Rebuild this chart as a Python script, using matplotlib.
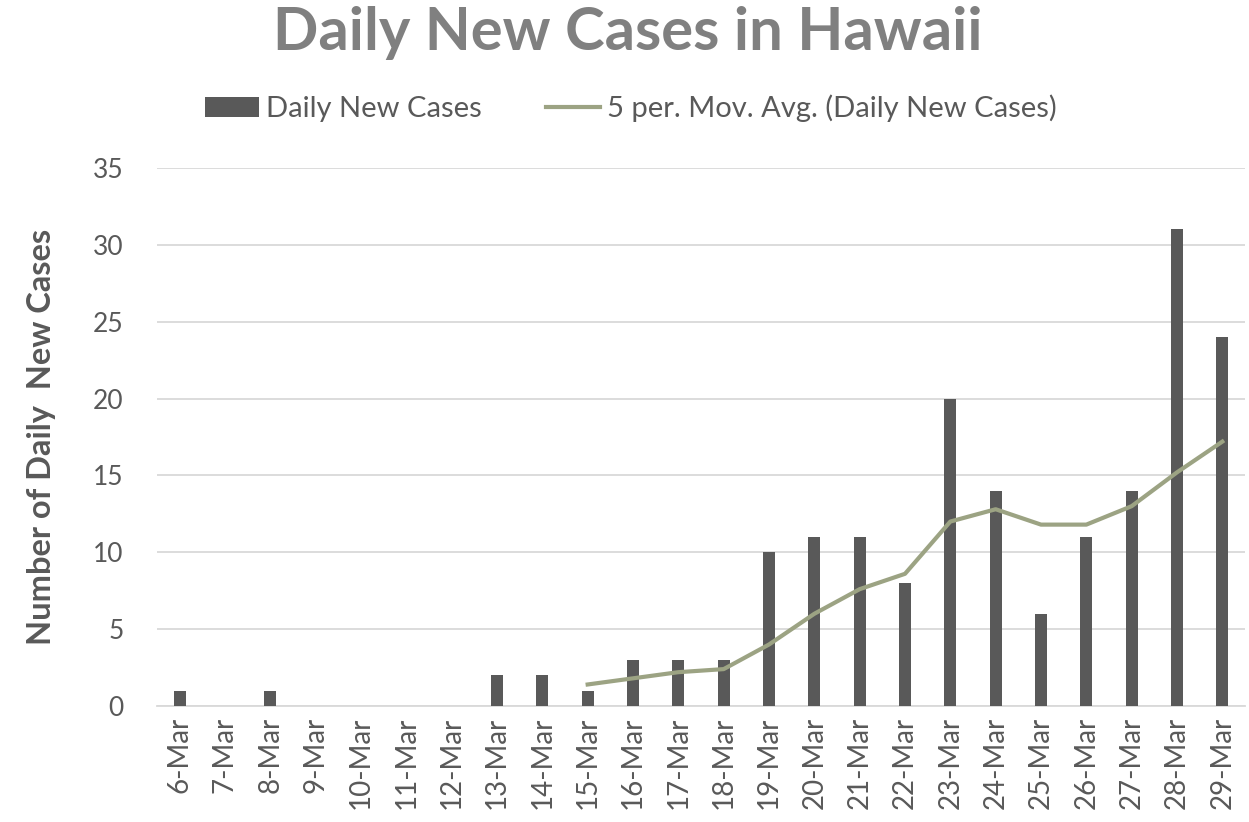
from matplotlib import pyplot as plt
import numpy as np

plt.rcParams['font.family'] = ['Lato', 'DejaVu Sans']

# 数据
dates = ['6-Mar', '7-Mar', '8-Mar', '9-Mar', '10-Mar', '11-Mar', '12-Mar', '13-Mar',
         '14-Mar', '15-Mar', '16-Mar', '17-Mar', '18-Mar', '19-Mar', '20-Mar', '21-Mar',
         '22-Mar', '23-Mar', '24-Mar', '25-Mar', '26-Mar', '27-Mar', '28-Mar', '29-Mar']
cases = [1, 0, 1, 0, 0, 0, 0, 2, 2, 1, 3, 3, 3, 10, 11, 11, 8, 20, 14, 6, 11, 14, 31, 24]
ma_dates = dates[9:]
ma_vals = [1.4, 1.8, 2.2, 2.4, 4.0, 6.0, 7.6, 8.6, 12.0, 12.8, 11.8, 11.8, 13.0, 15.2, 17.2]

text_color = '#595959'
bar_color = '#595959'
line_color = '#9CA383'

fig = plt.figure(figsize=(12.49, 8.22), dpi=100)
ax = fig.add_axes([157 / 1249, 116 / 822, 1088 / 1249, 538 / 822])

x = np.arange(len(dates))
bars = ax.bar(x, cases, width=0.27, color=bar_color, label='Daily New Cases', zorder=3)
ma_x = [dates.index(d) for d in ma_dates]
line, = ax.plot(ma_x, ma_vals, color=line_color, linewidth=3,
                label='5 per. Mov. Avg. (Daily New Cases)', zorder=4)

ax.set_xlim(-0.5, len(dates) - 0.5)
ax.set_ylim(0, 35)
ax.set_yticks(range(0, 36, 5))
ax.set_xticks(x)
ax.set_xticklabels(dates, rotation=90, fontsize=20, color=text_color)
ax.tick_params(axis='y', labelsize=19, labelcolor=text_color, length=0, pad=24)
ax.tick_params(axis='x', length=0, pad=8)
ax.grid(axis='y', color='#D9D9D9', linewidth=1.3, zorder=0)
for s in ['top', 'right', 'left']:
    ax.spines[s].set_visible(False)
ax.spines['bottom'].set_color('#D9D9D9')
ax.spines['bottom'].set_linewidth(1.3)

ax.set_ylabel('Number of Daily  New Cases', fontsize=23.5, fontweight='bold', color=text_color, labelpad=27)
fig.text(0.503, 0.960, 'Daily New Cases in Hawaii', ha='center', va='center',
         fontsize=43, fontweight='bold', color='#808080')
fig.legend(handles=[bars, line], loc='center', bbox_to_anchor=(0.505, 0.868), ncol=2, frameon=False,
           fontsize=21, labelcolor=text_color, handlelength=1.85, handletextpad=0.25,
           columnspacing=2.2)

plt.savefig('out.png', dpi=100)
